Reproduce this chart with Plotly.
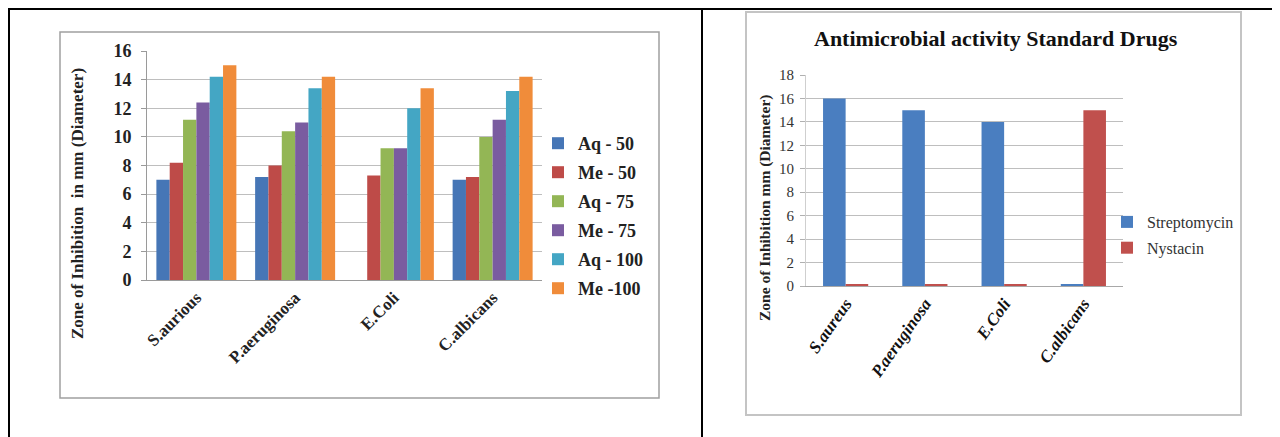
import plotly.graph_objects as go

W, H = 1280, 437
OFF = 8  # default page body margin

# ---------------- data ----------------
organisms_left = ["S.aurious", "P.aeruginosa", "E.Coli", "C.albicans"]
aq_50 = [7.0, 7.2, None, 7.0]
me_50 = [8.2, 8.0, 7.3, 7.2]
aq_75 = [11.2, 10.4, 9.2, 10.0]
me_75 = [12.4, 11.0, 9.2, 11.2]
aq_100 = [14.2, 13.4, 12.0, 13.2]
me_100 = [15.0, 14.2, 13.4, 14.2]
left_series_names = ["Aq - 50", "Me - 50", "Aq - 75", "Me - 75", "Aq - 100", "Me -100"]
left_yticks = [0, 2, 4, 6, 8, 10, 12, 14, 16]

organisms_right = ["S.aureus", "P.aeruginosa", "E.Coli", "C.albicans"]
streptomycin = [16, 15, 14, 0.1]
nystacin = [0.1, 0.1, 0.1, 15]
right_series_names = ["Streptomycin", "Nystacin"]
right_yticks = [0, 2, 4, 6, 8, 10, 12, 14, 16, 18]

left_colors = ["#4676B6", "#BE4B48", "#93B655", "#7A5CA0", "#44A6C4", "#F08C3A"]
right_colors = ["#4A7EC0", "#C0504D"]

SERIF = "Liberation Serif"


def px(x):
    return (x - OFF) / W


def py(y):
    return 1 - (y - OFF) / H


fig = go.Figure()

left_values = [aq_50, me_50, aq_75, me_75, aq_100, me_100]
for name, vals, col in zip(left_series_names, left_values, left_colors):
    fig.add_trace(go.Bar(
        x=organisms_left, y=vals, name=name, marker=dict(color=col, line=dict(width=0)),
        xaxis="x", yaxis="y", legend="legend", legendgroup=name,
    ))

right_values = [streptomycin, nystacin]
right_offsets = [-0.285, 0.0]
for name, vals, col, off in zip(right_series_names, right_values, right_colors, right_offsets):
    fig.add_trace(go.Bar(
        x=organisms_right, y=vals, name=name, marker=dict(color=col, line=dict(width=0)),
        xaxis="x2", yaxis="y2", legend="legend2", legendgroup=name + "_r",
        width=0.285, offset=off,
    ))

grid_col = "#BEBEBE"

fig.update_layout(
    width=W, height=H,
    margin=dict(l=0, r=0, t=0, b=0, autoexpand=False),
    paper_bgcolor="white", plot_bgcolor="white",
    barmode="group",
    bargap=0.19, bargroupgap=0,
    xaxis=dict(domain=[px(147), px(542)], anchor="y", automargin=False, range=[-0.5, 3.5],
               tickangle=-45, ticks="", showline=True, linecolor="#9A9A9A", linewidth=1,
               tickfont=dict(family=SERIF, size=17, color="#222", weight="bold")),
    yaxis=dict(domain=[py(280), py(51)], anchor="x", range=[0, 16], automargin=False,
               tickvals=left_yticks, showgrid=True, gridcolor=grid_col, gridwidth=1,
               zeroline=False, showline=True, linecolor="#9A9A9A", linewidth=1,
               ticks="outside", ticklen=5, tickcolor="#9A9A9A", ticklabelstandoff=6,
               tickfont=dict(family=SERIF, size=18, color="#222", weight="bold")),
    xaxis2=dict(domain=[px(806), px(1123)], anchor="y2", automargin=False, range=[-0.5, 3.5],
                tickangle=-55, ticks="", showline=True, linecolor="#A8A8A8", linewidth=1,
                tickfont=dict(family=SERIF, size=17, color="#111", weight="bold", style="italic")),
    yaxis2=dict(domain=[py(286), py(75)], anchor="x2", range=[0, 18], automargin=False,
                tickvals=right_yticks, showgrid=True, gridcolor=grid_col, gridwidth=1,
                zeroline=False, showline=True, linecolor="#CFCFCF", linewidth=1,
                ticks="outside", ticklen=5, tickcolor="#B0B0B0", ticklabelstandoff=3,
                tickfont=dict(family=SERIF, size=15, color="#333")),
    legend=dict(x=px(538), y=py(125), xanchor="left", yanchor="top",
                font=dict(family=SERIF, size=18, color="#222", weight="bold"),
                tracegroupgap=2.6, itemwidth=30, bgcolor="rgba(0,0,0,0)",
                traceorder="grouped"),
    legend2=dict(x=px(1107), y=py(205), xanchor="left", yanchor="top",
                 font=dict(family=SERIF, size=16, color="#333"),
                 tracegroupgap=2, itemwidth=30, bgcolor="rgba(0,0,0,0)",
                 traceorder="grouped"),
    showlegend=True,
)

shapes = []
# document table borders
shapes.append(dict(type="line", x0=px(8), x1=px(1290), y0=py(9), y1=py(9), xref="paper", yref="paper",
                   line=dict(color="black", width=2)))
shapes.append(dict(type="line", x0=px(9), x1=px(9), y0=py(9), y1=py(440), xref="paper", yref="paper",
                   line=dict(color="black", width=2)))
shapes.append(dict(type="line", x0=px(702), x1=px(702), y0=py(9), y1=py(440), xref="paper", yref="paper",
                   line=dict(color="black", width=2)))
# chart frames
shapes.append(dict(type="rect", x0=px(60), x1=px(659), y0=py(398), y1=py(32), xref="paper", yref="paper",
                   line=dict(color="#A0A0A0", width=1.5), layer="below"))
shapes.append(dict(type="rect", x0=px(746), x1=px(1241), y0=py(415), y1=py(12), xref="paper", yref="paper",
                   line=dict(color="#C4C4C4", width=2), layer="below"))
fig.update_layout(shapes=shapes)

annotations = [
    dict(text="Zone of Inhibition  in mm (Diameter)", x=px(77), y=py(204), xref="paper", yref="paper",
         textangle=-90, showarrow=False, xanchor="center", yanchor="middle",
         font=dict(family=SERIF, size=17, color="#222", weight="bold")),
    dict(text="Zone of Inhibition mm (Diameter)", x=px(765), y=py(208), xref="paper", yref="paper",
         textangle=-90, showarrow=False, xanchor="center", yanchor="middle",
         font=dict(family=SERIF, size=15.5, color="#222", weight="bold")),
    dict(text="Antimicrobial activity Standard Drugs", x=px(996), y=py(39), xref="paper", yref="paper",
         showarrow=False, xanchor="center", yanchor="middle",
         font=dict(family=SERIF, size=22, color="#111", weight="bold")),
]
fig.update_layout(annotations=annotations)

fig.write_html("out.html")
